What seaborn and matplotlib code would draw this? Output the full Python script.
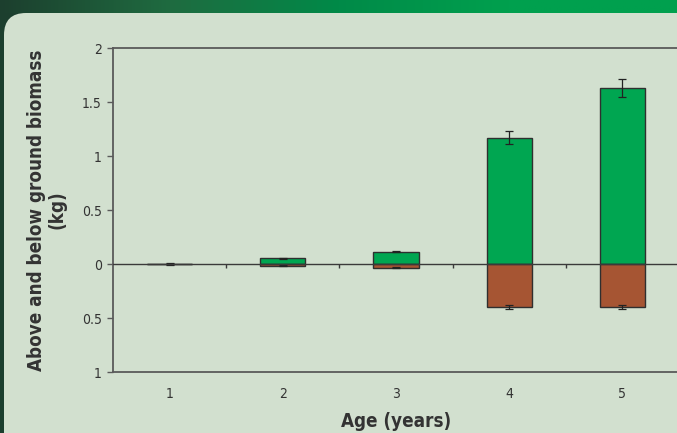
import numpy as np
import pandas as pd
import matplotlib
matplotlib.use("Agg")
import matplotlib.pyplot as plt
from matplotlib.patches import FancyBboxPatch
from matplotlib.colors import LinearSegmentedColormap
import matplotlib.transforms as mtransforms
import seaborn as sns

# Biomass by tree age (kg): above ground positive, below ground drawn downward
ages = ["1", "2", "3", "4", "5"]
above = [0.003, 0.053, 0.115, 1.17, 1.63]
above_err = [0.002, 0.006, 0.006, 0.06, 0.085]
below = [0.003, 0.015, 0.034, 0.395, 0.395]
below_err = [0.002, 0.004, 0.004, 0.02, 0.02]
ytick_values = [2, 1.5, 1, 0.5, 0, -0.5, -1]
ytick_labels = ["2", "1.5", "1", "0.5", "0", "0.5", "1"]

GREEN = "#00a651"
BROWN = "#a65533"
EDGE = "#2f2f2f"
PANEL = "#d2e0cf"
TEXT = "#333333"

sns.set_theme(style="white")
plt.rcParams["font.family"] = ["DejaVu Sans"]
plt.rcParams["font.stretch"] = "condensed"

W, H = 677, 433
fig = plt.figure(figsize=(W / 100, H / 100), dpi=100)
fig.patch.set_facecolor("#1c3f2e")

# background: header gradient band and light rounded content panel (pixel coords)
bg = fig.add_axes([0, 0, 1, 1], zorder=-5)
bg.set_axis_off()
grad = LinearSegmentedColormap.from_list(
    "band", ["#1c3f2e", "#1f6b40", "#008a48", "#00a04e", "#00a04e"])
bg.imshow(np.linspace(0, 1, 256)[None, :], aspect="auto", cmap=grad,
          extent=[0, W, 13, 0], zorder=1)
bg.add_patch(FancyBboxPatch((4, 13), W + 40, H + 40,
                            boxstyle="round,pad=0,rounding_size=22",
                            facecolor=PANEL, edgecolor="none", zorder=2))
bg.set_xlim(0, W)
bg.set_ylim(H, 0)

ax = fig.add_axes([113 / W, 1 - 372 / H, 566 / W, 324 / H])
ax.set_facecolor("none")

df = pd.DataFrame({
    "age": ages * 2,
    "biomass": above + [-v for v in below],
    "part": ["Above"] * 5 + ["Below"] * 5,
})
sns.barplot(data=df, x="age", y="biomass", hue="part",
            palette={"Above": GREEN, "Below": BROWN}, dodge=False,
            saturation=1, width=0.4, edgecolor=EDGE, linewidth=1.0,
            legend=False, errorbar=None, ax=ax, zorder=3)

xpos = np.arange(len(ages))
ax.errorbar(xpos, above, yerr=above_err, fmt="none", ecolor="#222222",
            elinewidth=0.9, capsize=3, capthick=0.9, zorder=4)
ax.errorbar(xpos, [-v for v in below], yerr=below_err, fmt="none",
            ecolor="#222222", elinewidth=0.9, capsize=3, capthick=0.9,
            zorder=4)

# zero line with small separators between age classes
ax.axhline(0, color="#3a3a3a", lw=1.0, zorder=5)
sep_tr = mtransforms.blended_transform_factory(ax.transData, ax.transAxes)
zero_frac = 1 / 3
ax.vlines(xpos[:-1] + 0.5, zero_frac - 4 / 324, zero_frac,
          transform=sep_tr, color="#3a3a3a", lw=1.0, zorder=5)

ax.set_xlim(-0.5, 4.5)
ax.set_ylim(-1, 2)
ax.set_yticks(ytick_values)
ax.set_yticklabels(ytick_labels)

for side in ["left", "bottom", "top", "right"]:
    ax.spines[side].set_visible(True)
    ax.spines[side].set_color("#5a5a5a")
    ax.spines[side].set_linewidth(1.3)

ax.tick_params(axis="y", direction="out", length=4, width=1.0,
               color="#5a5a5a", labelsize=10, labelcolor=TEXT, pad=4,
               left=True)
ax.tick_params(axis="x", length=0, labelsize=10, labelcolor=TEXT, pad=11)

ax.set_xlabel("Age (years)", fontsize=13.5, fontweight="bold", color=TEXT,
              labelpad=8)
ax.set_ylabel("Above and below ground biomass\n(kg)", fontsize=13.5,
              fontweight="bold", color=TEXT, labelpad=11, linespacing=1.12)

fig.savefig("out.png", dpi=100, facecolor=fig.get_facecolor())
